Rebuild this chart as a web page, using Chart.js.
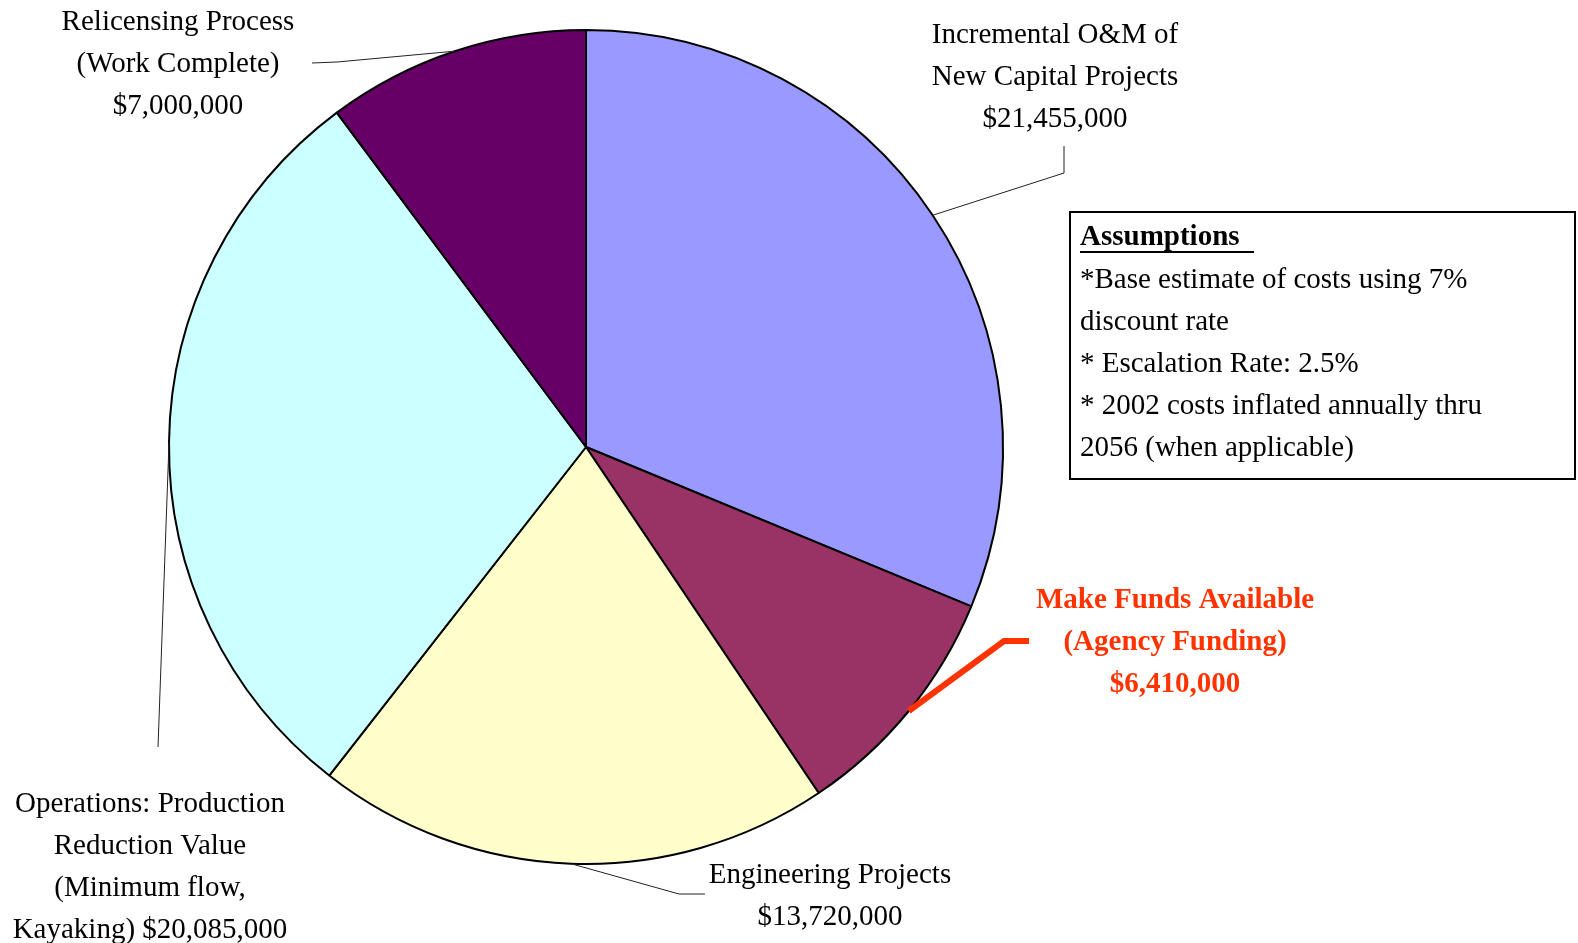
<!DOCTYPE html>
<html>
<head>
<meta charset="utf-8">
<script src="https://cdn.jsdelivr.net/npm/chart.js@4.4.0/dist/chart.umd.min.js"></script>
<style>
  html, body { margin: 0; padding: 0; background: #fff; }
  #wrap { position: relative; width: 1578px; height: 943px; }
</style>
</head>
<body>
<div id="wrap"><canvas id="pie" width="1578" height="943"></canvas></div>
<script>
const categories = [
  'Incremental O&M of\nNew Capital Projects',
  'Make Funds Available\n(Agency Funding)',
  'Engineering Projects',
  'Operations: Production\nReduction Value\n(Minimum flow,\nKayaking)',
  'Relicensing Process\n(Work Complete)'
];
const costs = [21455000, 6410000, 13720000, 20085000, 7000000];
const sliceColors = ['#9999FF', '#993366', '#FFFFCC', '#CCFFFF', '#660066'];

const assumptions = [
  '*Base estimate of costs using 7%',
  'discount rate',
  '* Escalation Rate: 2.5%',
  '* 2002 costs inflated annually thru',
  '2056 (when applicable)'
];

const money = v => '$' + v.toLocaleString('en-US');

// where each label sits and how its leader line bends (layout only)
const labelLayout = [
  { x: 1055, y: 35, bends: [[1064, 173], [1064, 146]] },
  { x: 1175, y: 601, bends: [[1004, 641], [1029, 641]], color: '#FF3300', bold: true, lw: 6 },
  { x: 830, y: 875, bends: [[679, 894], [705, 894]] },
  { x: 150, y: 804, bends: [[158, 747]] },
  { x: 178, y: 22, bends: [[337, 62], [312, 63]] }
];

const FONT = '"Liberation Serif", "Times New Roman", serif';
const SIZE = 29;
const LINE_H = 42;

// label text lines, the value goes on its own line except for Operations
function labelText(i) {
  const lines = categories[i].split('\n');
  if (i === 3) lines[lines.length - 1] += ' ' + money(costs[i]);
  else lines.push(money(costs[i]));
  return lines;
}

const labelsPlugin = {
  id: 'pieLabels',
  afterDraw(chart) {
    const { ctx } = chart;
    const meta = chart.getDatasetMeta(0);
    ctx.save();
    meta.data.forEach((arc, i) => {
      const lay = labelLayout[i];
      const mid = (arc.startAngle + arc.endAngle) / 2;
      const sx = arc.x + Math.cos(mid) * arc.outerRadius;
      const sy = arc.y + Math.sin(mid) * arc.outerRadius;
      ctx.strokeStyle = lay.color || '#222';
      ctx.lineWidth = lay.lw || 1;
      ctx.lineJoin = 'miter';
      ctx.beginPath();
      ctx.moveTo(sx, sy);
      lay.bends.forEach(p => ctx.lineTo(p[0], p[1]));
      ctx.stroke();

      ctx.fillStyle = lay.color || '#000';
      ctx.font = (lay.bold ? 'bold ' : '') + SIZE + 'px ' + FONT;
      ctx.textAlign = 'center';
      ctx.textBaseline = 'middle';
      labelText(i).forEach((t, k) => ctx.fillText(t, lay.x, lay.y + k * LINE_H));
    });

    // assumptions box
    ctx.strokeStyle = '#000';
    ctx.lineWidth = 2;
    ctx.strokeRect(1070, 212, 505, 267);
    ctx.textAlign = 'left';
    ctx.textBaseline = 'middle';
    ctx.fillStyle = '#000';
    ctx.font = 'bold ' + SIZE + 'px ' + FONT;
    const head = 'Assumptions';
    ctx.fillText(head, 1080, 238);
    const w = ctx.measureText(head + '  ').width;
    ctx.fillRect(1080, 251, w, 2);
    ctx.font = SIZE + 'px ' + FONT;
    assumptions.forEach((t, k) => ctx.fillText(t, 1080, 280 + k * LINE_H));
    ctx.restore();
  }
};

new Chart(document.getElementById('pie'), {
  type: 'pie',
  data: {
    labels: categories,
    datasets: [{
      data: costs,
      backgroundColor: sliceColors,
      borderColor: '#000',
      borderWidth: 2,
      radius: 417,
      hoverOffset: 0
    }]
  },
  options: {
    responsive: false,
    animation: false,
    events: [],
    layout: { padding: { left: 0, right: 406, top: 0, bottom: 49 } },
    plugins: {
      legend: { display: false },
      tooltip: { enabled: false }
    }
  },
  plugins: [labelsPlugin]
});
</script>
</body>
</html>
